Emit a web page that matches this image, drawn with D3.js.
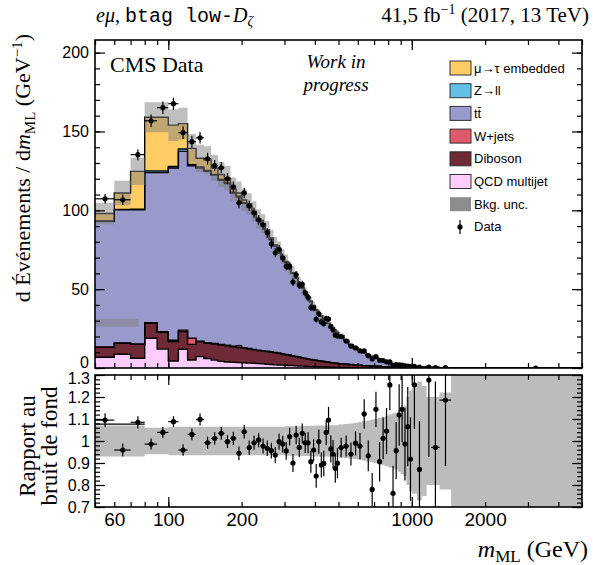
<!DOCTYPE html>
<html>
<head>
<meta charset="utf-8">
<script src="https://cdnjs.cloudflare.com/ajax/libs/d3/7.8.5/d3.min.js"></script>
<style>
  body { margin: 0; background: #fff; }
  svg text { font-family: "Liberation Serif", "Times New Roman", serif; fill: #000; }
  .tick text { font-family: "Liberation Sans", Arial, sans-serif; }
  .legend text { font-family: "Liberation Sans", Arial, sans-serif; }
</style>
</head>
<body>
<div id="chart"></div>
<script>
/* bin edges in GeV (10 GeV up to 500, 25 GeV up to 1000, then wider) */
const binEdges = [50, 60, 70, 80, 90, 100, 110, 120, 130, 140, 150, 160, 170, 180, 190, 200,
  210, 220, 230, 240, 250, 260, 270, 280, 290, 300, 310, 320, 330, 340, 350, 360, 370, 380,
  390, 400, 410, 420, 430, 440, 450, 460, 470, 480, 490, 500, 525, 550, 575, 600, 625, 650,
  675, 700, 725, 750, 775, 800, 825, 850, 875, 900, 925, 950, 975, 1000, 1050, 1100, 1150,
  1200, 1300, 1450, 5000];

/* background components, events / GeV, one value per bin */
const qcdMultijet = [6.8, 8.7, 6.2, 18.9, 12.0, 4.4, 11.9, 5.1, 7.2, 6.0,
  5.0, 4.2, 3.8, 3.6, 3.4, 3.3, 3.1, 3.0, 2.8, 2.6,
  2.4, 2.2, 2.0, 1.9, 1.8, 1.7, 1.6, 1.5, 1.4, 1.3,
  1.2, 1.1, 1.0, 0.9, 0.9, 0.8, 0.8, 0.7, 0.7, 0.6,
  0.6, 0.5, 0.5, 0.4, 0.4,
  0.3, 0.3, 0.2, 0.2, 0.2, 0.1, 0.1, 0.1, 0.1, 0.1, 0, 0, 0, 0, 0, 0, 0, 0, 0, 0,
  0, 0, 0, 0, 0, 0, 0];
const diboson = [6.3, 7.0, 8.8, 9.5, 10.7, 12.3, 11.2, 9.9, 9.5, 9.7,
  10.2, 10.3, 10.2, 9.9, 9.6, 9.2, 8.9, 8.5, 8.2, 8.1,
  8.0, 7.8, 7.6, 7.3, 7.0, 6.7, 6.4, 6.1, 5.8, 5.5,
  5.2, 4.9, 4.7, 4.4, 4.2, 4.0, 3.8, 3.6, 3.4, 3.2,
  3.1, 2.9, 2.8, 2.6, 2.5,
  2.3, 2.1, 1.9, 1.7, 1.6, 1.4, 1.3, 1.2, 1.1, 1.0, 0.9, 0.8, 0.7, 0.6, 0.55, 0.5, 0.45, 0.4, 0.35, 0.3,
  0.28, 0.22, 0.18, 0.15, 0.12, 0.08, 0];
const wJets = [0.2, 0.2, 0.2, 0.3, 0.3, 0.9, 0.9, 3.9, 0.3, 0.3,
  0.4, 0.4, 0.4, 0.4, 1.2, 0.4, 0.4, 0.3, 0.3, 0.3,
  0.3, 0.3, 0.3, 0.3, 0.2, 0.2, 0.2, 0.2, 0.2, 0.2,
  0.2, 0.1, 0.1, 0.1, 0.1, 0.1, 0.1, 0.1, 0.1, 0.1,
  0.1, 0.1, 0.1, 0.1, 0.1,
  0.1, 0.1, 0.1, 0, 0, 0, 0, 0, 0, 0, 0, 0, 0, 0, 0, 0, 0, 0, 0, 0,
  0, 0, 0, 0, 0, 0, 0];
const ttbar = [79.7, 84.4, 85.1, 95.3, 101, 109.2, 113.4, 109.4, 109.8, 108.7,
  106.7, 104.1, 102.5, 97, 94.4, 91.6, 89.7, 86.1, 81.9, 79.3,
  75.7, 71.2, 67.4, 65.3, 61, 58.3, 54.6, 52.3, 49.8, 46.9,
  44.3, 41.7, 39.2, 36.7, 34.2, 31.7, 29.7, 28.4, 27.1, 26.3,
  24.5, 23.7, 22.2, 20.7, 19.6,
  17.8, 15.0, 12.6, 10.9, 9.4, 8.2, 7.0, 6.0, 5.1, 4.3, 3.7, 2.9, 2.4, 1.95, 1.6, 1.3, 1.1, 0.9, 0.77, 0.66,
  0.52, 0.4, 0.32, 0.25, 0.18, 0.12, 0];
const zll = [0.3, 0.3, 0.4, 1.0, 1.0, 1.0, 1.5, 0.8, 0.7, 0.6,
  0.5, 0.5, 0.5, 0.4, 0.4, 0.4, 0.4, 0.3, 0.3, 0.3,
  0.3, 0.2, 0.2, 0.2, 0.2, 0.2, 0.2, 0.1, 0.1, 0.1,
  0.1, 0.1, 0.1, 0.1, 0.1, 0.1, 0, 0, 0, 0,
  0, 0, 0, 0, 0,
  0, 0, 0, 0, 0, 0, 0, 0, 0, 0, 0, 0, 0, 0, 0, 0, 0, 0, 0, 0,
  0, 0, 0, 0, 0, 0, 0];
const embedded = [4.7, 10.4, 24, 34, 34, 26.2, 16.1, 10.2, 5.5, 6.7,
  4.0, 3.2, 3.0, 2.2, 2.0, 1.6, 1.5, 1.1, 1.0, 0.9,
  0.8, 0.7, 0.6, 0.5, 0.5, 0.4, 0.3, 0.3, 0.2, 0.2,
  0.2, 0.1, 0.1, 0.1, 0.1, 0.1, 0.1, 0, 0, 0,
  0, 0, 0, 0, 0,
  0, 0, 0, 0, 0, 0, 0, 0, 0, 0, 0, 0, 0, 0, 0, 0, 0, 0, 0, 0,
  0, 0, 0, 0, 0, 0, 0];

/* relative background uncertainty per bin (last bin: no background) */
const bkgRelUnc = [0.07, 0.07, 0.07, 0.06, 0.06, 0.065, 0.065, 0.065, 0.065, 0.065,
  0.065, 0.065, 0.065, 0.065, 0.065, 0.065, 0.065, 0.065, 0.065, 0.065,
  0.065, 0.065, 0.065, 0.065, 0.065, 0.067, 0.067, 0.067, 0.067, 0.067,
  0.068, 0.068, 0.068, 0.069, 0.069, 0.07, 0.07, 0.07, 0.07, 0.07,
  0.072, 0.072, 0.072, 0.072, 0.072,
  0.075, 0.077, 0.079, 0.082, 0.085, 0.09, 0.093, 0.097, 0.1, 0.105, 0.11, 0.115, 0.12, 0.125, 0.13, 0.14, 0.15, 0.16, 0.2, 0.23,
  0.24, 0.27, 0.25, 0.2, 0.2, 0.22, 1];

/* observed data, events / GeV */
const dataValues = [107.3, 106.7, 135.3, 156.8, 165.1, 167.6, 149.2, 143.5, 146, 132.7,
  128.3, 127, 120, 114.9, 104.8, 111, 102.9, 98.4, 94, 90.8,
  85.7, 78.8, 73.1, 75.3, 69.7, 64.5, 64.6, 54.5, 59.1, 52.6,
  53, 47.6, 44.8, 38.3, 38, 30.9, 34.4, 29.2, 28.1, 31.4,
  31, 26.2, 24.1, 20.8, 20.3,
  19.9, 17.1, 13.9, 12.7, 10.9, 10.9, 7.8, 5.7, 7.2, 4.9, 4.7, 3.9, 3.9, 1.9, 2.1, 2.0, 1.8, 1.3, 1.2, 0.9,
  1.0, 0.54, null, 0.51, 0.29, 0.24, 0.004];

/* data / background ratio and its uncertainty */
const ratioValues = [1.095, 0.959, 1.085, 0.986, 1.039, 1.088, 0.959, 1.030, 1.098, 0.992,
  1.012, 1.035, 0.997, 1.012, 0.944, 1.042, 0.970, 0.992, 1.005, 0.977,
  0.967, 0.956, 0.936, 0.997, 0.986, 0.955, 1.020, 0.900, 1.027, 0.971,
  1.035, 0.992, 0.992, 0.906, 0.959, 0.841, 0.997, 0.891, 0.898, 1.039,
  1.095, 0.964, 0.941, 0.876, 0.899,
  0.970, 0.977, 0.941, 0.990, 0.977, 1.123, 0.933, 0.780, 1.144, 0.906,
  1.012, 1.045, 1.255, 0.762, 0.956, 1.118, 1.144, 0.986, 1.065, 0.918,
  1.255, 0.871, null, 1.277, 0.971, 1.186, null];
const ratioErrors = [0.031, 0.03, 0.028, 0.025, 0.025, 0.025, 0.026, 0.027, 0.027, 0.028,
  0.028, 0.029, 0.029, 0.03, 0.031, 0.031, 0.032, 0.032, 0.033, 0.034,
  0.035, 0.036, 0.037, 0.037, 0.038, 0.04, 0.04, 0.041, 0.042, 0.044,
  0.045, 0.046, 0.048, 0.05, 0.051, 0.054, 0.055, 0.057, 0.058, 0.058,
  0.06, 0.062, 0.064, 0.066, 0.068,
  0.045, 0.048, 0.052, 0.056, 0.06, 0.067, 0.07, 0.075, 0.08, 0.09,
  0.095, 0.105, 0.115, 0.125, 0.13, 0.14, 0.15, 0.165, 0.18, 0.19,
  0.2, 0.22, null, 0.35, 0.3, 0.3, null];

/* leftover band / line drawn in the original at the left edge */
const strayBand = { x: [50, 75.5], y: [26.2, 31.1] };
const strayLine = { x: [50, 80], y: 1.077 };

const xTickLabels = [60, 100, 200, 1000, 2000];
const xMajorTicks = [100, 1000];
const yTickLabels = [0, 50, 100, 150, 200];
const ratioTickLabels = [0.7, 0.8, 0.9, 1.0, 1.1, 1.2, 1.3];

const legendItems = [
  { label: 'μ→τ embedded', color: '#ffcc66' },
  { label: 'Z→ll', color: '#64bfe8' },
  { label: 'tt̄', color: '#9999cc' },
  { label: 'W+jets', color: '#de5a6a' },
  { label: 'Diboson', color: '#6e2a36' },
  { label: 'QCD multijet', color: '#ffccff' }
];

/* stack order, bottom to top */
const stackKeys = ['qcd', 'diboson', 'wjets', 'ttbar', 'zll', 'embedded'];
const stackColors = ['#ffccff', '#6e2a36', '#de5a6a', '#9999cc', '#64bfe8', '#ffcc66'];

/* ---- layout ---- */
const W = 593, H = 565;
const xL = 95, xR = 582;
const mainTop = 40, mainBot = 368;
const ratTop = 375, ratBot = 507;

const svg = d3.select('#chart').append('svg')
  .attr('width', W).attr('height', H);

const x = d3.scaleLog().domain([50, 5000]).range([xL, xR]);
const y = d3.scaleLinear().domain([0, 208]).range([mainBot, mainTop]);
const yR = d3.scaleLinear().domain([0.7, 1.3]).range([ratBot, ratTop]);

const defs = svg.append('defs');
defs.append('clipPath').attr('id', 'clipMain').append('rect')
  .attr('x', xL).attr('y', mainTop).attr('width', xR - xL).attr('height', mainBot - mainTop);
defs.append('clipPath').attr('id', 'clipRatio').append('rect')
  .attr('x', xL).attr('y', ratTop).attr('width', xR - xL).attr('height', ratBot - ratTop);

const bins = binEdges.slice(0, -1).map(function (lo, i) { return { lo: lo, hi: binEdges[i + 1] }; });

/* stack the backgrounds */
const table = bins.map(function (b, i) {
  return { qcd: qcdMultijet[i], diboson: diboson[i], wjets: wJets[i], ttbar: ttbar[i], zll: zll[i], embedded: embedded[i] };
});
const series = d3.stack().keys(stackKeys)(table);
const total = series[series.length - 1].map(function (d) { return d[1]; });

/* histogram step points */
function steps (lo, hi) {
  return bins.flatMap(function (b, i) {
    return [{ x: b.lo, y0: lo(i), y1: hi(i) }, { x: b.hi, y0: lo(i), y1: hi(i) }];
  });
}

const main = svg.append('g').attr('clip-path', 'url(#clipMain)');
const area = d3.area().x(function (d) { return x(d.x); })
  .y0(function (d) { return y(d.y0); }).y1(function (d) { return y(d.y1); });
const outline = d3.line().x(function (d) { return x(d.x); }).y(function (d) { return y(d.y1); });

series.forEach(function (s, k) {
  const pts = steps(function (i) { return s[i][0]; }, function (i) { return s[i][1]; });
  main.append('path').attr('d', area(pts)).attr('fill', stackColors[k]).attr('stroke', 'none');
});
series.forEach(function (s) {
  const pts = steps(function (i) { return s[i][0]; }, function (i) { return s[i][1]; });
  main.append('path').attr('d', outline(pts)).attr('fill', 'none')
    .attr('stroke', '#000').attr('stroke-width', 1.4);
});

/* background uncertainty band */
const uncPts = steps(function (i) { return Math.max(0, total[i] * (1 - bkgRelUnc[i])); },
  function (i) { return total[i] * (1 + bkgRelUnc[i]); });
main.append('path').attr('d', area(uncPts)).attr('fill', '#7f7f7f').attr('fill-opacity', 0.5);

main.append('rect')
  .attr('x', x(strayBand.x[0])).attr('width', x(strayBand.x[1]) - x(strayBand.x[0]))
  .attr('y', y(strayBand.y[1])).attr('height', y(strayBand.y[0]) - y(strayBand.y[1]))
  .attr('fill', '#7f7f7f').attr('fill-opacity', 0.5);

/* data points */
function drawPoints (g, pts, ys) {
  g.selectAll('line.h').data(pts).enter().append('line')
    .attr('x1', function (d) { return x(d.lo); }).attr('x2', function (d) { return x(d.hi); })
    .attr('y1', function (d) { return ys(d.v); }).attr('y2', function (d) { return ys(d.v); })
    .attr('stroke', '#000').attr('stroke-width', 1.2);
  g.selectAll('line.v').data(pts).enter().append('line')
    .attr('x1', function (d) { return x(d.c); }).attr('x2', function (d) { return x(d.c); })
    .attr('y1', function (d) { return ys(d.v - d.e); }).attr('y2', function (d) { return ys(d.v + d.e); })
    .attr('stroke', '#000').attr('stroke-width', 1.2);
  g.selectAll('circle').data(pts).enter().append('circle')
    .attr('cx', function (d) { return x(d.c); }).attr('cy', function (d) { return ys(d.v); })
    .attr('r', 2.6).attr('fill', '#000');
}

const mainPts = [];
bins.forEach(function (b, i) {
  if (dataValues[i] === null) return;
  const rel = ratioValues[i] ? ratioErrors[i] / ratioValues[i] : 0;
  mainPts.push({ lo: b.lo, hi: b.hi, c: (b.lo + b.hi) / 2, v: dataValues[i], e: dataValues[i] * rel });
});
drawPoints(main.append('g'), mainPts, y);

/* ratio panel */
const ratio = svg.append('g').attr('clip-path', 'url(#clipRatio)');
const areaR = d3.area().x(function (d) { return x(d.x); })
  .y0(function (d) { return yR(d.y0); }).y1(function (d) { return yR(d.y1); });
ratio.append('path')
  .attr('d', areaR(steps(function (i) { return 1 - bkgRelUnc[i]; }, function (i) { return 1 + bkgRelUnc[i]; })))
  .attr('fill', '#7f7f7f').attr('fill-opacity', 0.52);
ratio.append('line')
  .attr('x1', x(strayLine.x[0])).attr('x2', x(strayLine.x[1]))
  .attr('y1', yR(strayLine.y)).attr('y2', yR(strayLine.y))
  .attr('stroke', '#000').attr('stroke-width', 1.2);

const ratioPts = [];
bins.forEach(function (b, i) {
  if (ratioValues[i] === null) return;
  ratioPts.push({ lo: b.lo, hi: b.hi, c: (b.lo + b.hi) / 2, v: ratioValues[i], e: ratioErrors[i] });
});
drawPoints(ratio.append('g'), ratioPts, yR);

/* ---- axes ---- */
function tidy (g) {
  g.select('.domain').remove();
  g.selectAll('.tick line').attr('stroke', '#000').attr('stroke-width', 1.2);
}
const xMinor = x.ticks();

[[mainTop, mainBot], [ratTop, ratBot]].forEach(function (p) {
  svg.append('g').attr('transform', 'translate(0,' + p[1] + ')')
    .call(d3.axisBottom(x).tickValues(xMinor).tickSize(-5).tickFormat('')).call(tidy);
  svg.append('g').attr('transform', 'translate(0,' + p[1] + ')')
    .call(d3.axisBottom(x).tickValues(xMajorTicks).tickSize(-10).tickFormat('')).call(tidy);
  svg.append('g').attr('transform', 'translate(0,' + p[0] + ')')
    .call(d3.axisTop(x).tickValues(xMinor).tickSize(-5).tickFormat('')).call(tidy);
  svg.append('g').attr('transform', 'translate(0,' + p[0] + ')')
    .call(d3.axisTop(x).tickValues(xMajorTicks).tickSize(-10).tickFormat('')).call(tidy);
});

/* x tick labels */
svg.append('g').attr('transform', 'translate(0,' + ratBot + ')')
  .call(d3.axisBottom(x).tickValues(xTickLabels).tickSize(0).tickPadding(6).tickFormat(d3.format('d')))
  .call(tidy)
  .selectAll('text').attr('font-size', 19);

/* main y axis */
const yMinor = d3.range(0, 209, 10);
[[xL, d3.axisLeft], [xR, d3.axisRight]].forEach(function (p) {
  svg.append('g').attr('transform', 'translate(' + p[0] + ',0)')
    .call(p[1](y).tickValues(yMinor).tickSize(-5).tickFormat('')).call(tidy);
  svg.append('g').attr('transform', 'translate(' + p[0] + ',0)')
    .call(p[1](y).tickValues(yTickLabels).tickSize(-10).tickFormat('')).call(tidy);
});
svg.append('g').attr('transform', 'translate(' + xL + ',0)')
  .call(d3.axisLeft(y).tickValues(yTickLabels).tickSize(0).tickPadding(6))
  .call(tidy)
  .selectAll('text').attr('font-size', 16)
  .attr('dy', function (d) { return d === 0 ? '-0.05em' : '0.32em'; });

/* ratio y axis */
const rMinor = d3.range(0.7, 1.3001, 0.02);
[[xL, d3.axisLeft], [xR, d3.axisRight]].forEach(function (p) {
  svg.append('g').attr('transform', 'translate(' + p[0] + ',0)')
    .call(p[1](yR).tickValues(rMinor).tickSize(-5).tickFormat('')).call(tidy);
  svg.append('g').attr('transform', 'translate(' + p[0] + ',0)')
    .call(p[1](yR).tickValues(ratioTickLabels).tickSize(-10).tickFormat('')).call(tidy);
});
svg.append('g').attr('transform', 'translate(' + xL + ',0)')
  .call(d3.axisLeft(yR).tickValues(ratioTickLabels).tickSize(0).tickPadding(5)
    .tickFormat(function (d) { return d === 1 ? '1' : d3.format('.1f')(d); }))
  .call(tidy)
  .selectAll('text').attr('font-size', 16)
  .attr('dy', function (d) { return d === 1.3 ? '0.5em' : '0.32em'; });

/* frames */
[[mainTop, mainBot], [ratTop, ratBot]].forEach(function (p) {
  svg.append('rect').attr('x', xL).attr('y', p[0]).attr('width', xR - xL).attr('height', p[1] - p[0])
    .attr('fill', 'none').attr('stroke', '#000').attr('stroke-width', 1.6);
});

/* ---- text ---- */
const hdrL = svg.append('text').attr('x', 96).attr('y', 22).attr('font-size', 20);
hdrL.append('tspan').attr('font-style', 'italic').text('eμ');
hdrL.append('tspan').text(', ');
hdrL.append('tspan').attr('font-family', '"Liberation Mono", "DejaVu Sans Mono", monospace').attr('font-size', 20).text('btag low-');
hdrL.append('tspan').attr('font-style', 'italic').text('D');
hdrL.append('tspan').attr('font-style', 'italic').attr('font-size', 14).attr('dy', 4).text('ζ');

const hdrR = svg.append('text').attr('x', 589).attr('y', 22).attr('font-size', 21).attr('text-anchor', 'end');
hdrR.append('tspan').text('41,5 fb');
hdrR.append('tspan').attr('font-size', 14).attr('dy', -8).text('−1');
hdrR.append('tspan').attr('dy', 8).text(' (2017, 13 TeV)');

svg.append('text').attr('x', 110).attr('y', 72).attr('font-size', 22).text('CMS Data');
svg.append('text').attr('x', 336).attr('y', 68).attr('font-size', 19).attr('font-style', 'italic')
  .attr('text-anchor', 'middle').text('Work  in');
svg.append('text').attr('x', 336).attr('y', 91).attr('font-size', 19).attr('font-style', 'italic')
  .attr('text-anchor', 'middle').text('progress');

const yTitle = svg.append('text').attr('transform', 'translate(30,34) rotate(-90)')
  .attr('text-anchor', 'end').attr('font-size', 22);
yTitle.append('tspan').text('d Événements / d');
yTitle.append('tspan').attr('font-style', 'italic').text('m');
yTitle.append('tspan').attr('font-size', 15).attr('dy', 5).text('ML');
yTitle.append('tspan').attr('dy', -5).text(' (GeV');
yTitle.append('tspan').attr('font-size', 15).attr('dy', -8).text('−1');
yTitle.append('tspan').attr('dy', 8).text(')');

svg.append('text').attr('transform', 'translate(35,446) rotate(-90)').attr('text-anchor', 'middle')
  .attr('font-size', 23).text('Rapport au');
svg.append('text').attr('transform', 'translate(57,446) rotate(-90)').attr('text-anchor', 'middle')
  .attr('font-size', 23).text('bruit de fond');

const xTitle = svg.append('text').attr('x', 588).attr('y', 557).attr('text-anchor', 'end').attr('font-size', 24);
xTitle.append('tspan').attr('font-style', 'italic').text('m');
xTitle.append('tspan').attr('font-size', 17).attr('dy', 5).text('ML');
xTitle.append('tspan').attr('dy', -5).text(' (GeV)');

/* ---- legend ---- */
const legend = svg.append('g').attr('class', 'legend');
const rowH = 22.7, lx = 450, ly = 68;
legendItems.forEach(function (d, i) {
  const cy = ly + i * rowH;
  legend.append('rect').attr('x', lx).attr('y', cy - 7).attr('width', 21).attr('height', 14)
    .attr('fill', d.color).attr('stroke', '#333').attr('stroke-width', 1);
  legend.append('text').attr('x', lx + 24).attr('y', cy).attr('dy', '0.35em').attr('font-size', 13).text(d.label);
});
const uncY = ly + 6 * rowH;
legend.append('rect').attr('x', lx).attr('y', uncY - 7).attr('width', 21).attr('height', 14)
  .attr('fill', '#8c8c8c');
legend.append('text').attr('x', lx + 24).attr('y', uncY).attr('dy', '0.35em').attr('font-size', 13).text('Bkg. unc.');
const datY = ly + 7 * rowH;
legend.append('line').attr('x1', lx + 10).attr('x2', lx + 10).attr('y1', datY - 7).attr('y2', datY + 7)
  .attr('stroke', '#000').attr('stroke-width', 1.2);
legend.append('circle').attr('cx', lx + 10).attr('cy', datY).attr('r', 2.6).attr('fill', '#000');
legend.append('text').attr('x', lx + 24).attr('y', datY).attr('dy', '0.35em').attr('font-size', 13).text('Data');
</script>
</body>
</html>
